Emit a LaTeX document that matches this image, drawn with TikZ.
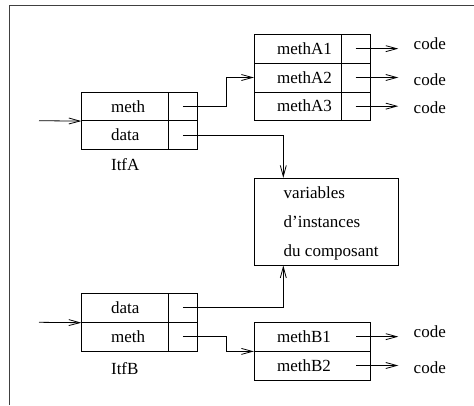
\documentclass[tikz,border=0pt]{standalone}
\usepackage{fontspec}
\setmainfont{Liberation Serif}
\usetikzlibrary{arrows.meta}
\begin{document}
\begin{tikzpicture}[x=1pt,y=-1pt,
  every node/.style={font=\fontsize{17}{28.6}\selectfont},
  cell/.style={draw, rectangle, inner sep=0pt},
  lab/.style={inner sep=0pt, anchor=west},
  arr/.style={-{Straight Barb[length=11pt,width=6pt]}},
  line width=0.8pt]
\useasboundingbox (0,0) rectangle (474,405);
% frame
\draw[line width=1pt, black!75] (9.5,405) -- (9.5,5) -- (474,5);

% ItfA
\node[cell, minimum width=86.6pt, minimum height=28.4pt] (Am) at (125,106.5) {};
\node[cell, minimum width=29pt, minimum height=28.4pt] (Amp) at (182.8,106.5) {};
\node[cell, minimum width=86.6pt, minimum height=28.6pt] (Ad) at (125,135) {};
\node[cell, minimum width=29pt, minimum height=28.6pt] (Adp) at (182.8,135) {};
\node[lab] (Amt) at (110.7,106.5) {meth};
\node[lab] (Adt) at (110.7,135) {data};
\node[lab] (Al) at (110.7,165) {ItfA};

% methA table
\node[cell, minimum width=86.7pt, minimum height=28.7pt] (A1) at (297.65,48.65) {};
\node[cell, minimum width=29pt, minimum height=28.7pt] (A1p) at (355.5,48.65) {};
\node[cell, minimum width=86.7pt, minimum height=29pt] (A2) at (297.65,77.5) {};
\node[cell, minimum width=29pt, minimum height=29pt] (A2p) at (355.5,77.5) {};
\node[cell, minimum width=86.7pt, minimum height=28.3pt] (A3) at (297.65,106.15) {};
\node[cell, minimum width=29pt, minimum height=28.3pt] (A3p) at (355.5,106.15) {};
\node[lab] (A1t) at (276.7,48.65) {methA1};
\node[lab] (A2t) at (276.7,77.5) {methA2};
\node[lab] (A3t) at (276.7,106.15) {methA3};
\node[lab] (c1) at (413.3,44) {code};
\node[lab] (c2) at (413.3,79.5) {code};
\node[lab] (c3) at (413.3,108) {code};

% variables box
\node[cell, minimum width=144pt, minimum height=86.7pt] (V) at (326.3,221.65) {};
\node[lab, align=left] (Vt) at (283.3,223.5) {variables\\d’instances\\du composant};

% ItfB
\node[cell, minimum width=86.6pt, minimum height=29pt] (Bd) at (125,307.8) {};
\node[cell, minimum width=29pt, minimum height=29pt] (Bdp) at (182.8,307.8) {};
\node[cell, minimum width=86.6pt, minimum height=28.7pt] (Bm) at (125,336.65) {};
\node[cell, minimum width=29pt, minimum height=28.7pt] (Bmp) at (182.8,336.65) {};
\node[lab] (Bdt) at (110.7,307.8) {data};
\node[lab] (Bmt) at (110.7,336.65) {meth};
\node[lab] (Bl) at (110.7,368.3) {ItfB};

% methB table
\node[cell, minimum width=115.7pt, minimum height=28.7pt] (B1) at (312.15,336.65) {};
\node[cell, minimum width=115.7pt, minimum height=29pt] (B2) at (312.15,365.5) {};
\node[lab] (B1t) at (276.7,336.65) {methB1};
\node[lab] (B2t) at (276.7,365.5) {methB2};
\node[lab] (c4) at (413.3,331.7) {code};
\node[lab] (c5) at (413.3,367.7) {code};

% free ends / helper coordinates
\coordinate (inA) at (39,120.7);
\coordinate (inB) at (39,322.3);
\coordinate (kA) at (226,0);

% connectors
\draw[arr] (inA) -- (Am.south west);
\draw[arr] (inB) -- (Bd.south west);
\draw[arr] (Amp.center) -| (kA |- A2.west) -- (A2.west);
\draw[arr] (Adp.center) -| (V.north -| Vt.west);
\draw[arr] (Bdp.center) -| (V.south -| Vt.west);
\draw[arr] (Bmp.center) -| (kA |- B1.south west) -- (B1.south west);
\draw[arr] (A1p.center) -- ([xshift=-15pt]c1.west |- A1p.center);
\draw[arr] (A2p.center) -- ([xshift=-15pt]c2.west |- A2p.center);
\draw[arr] (A3p.center) -- ([xshift=-15pt]c3.west |- A3p.center);
\draw[arr] ([xshift=-14.3pt]B1.east) -- ([xshift=-15pt]c4.west |- B1.east);
\draw[arr] ([xshift=-14.3pt]B2.east) -- ([xshift=-15pt]c5.west |- B2.east);
\end{tikzpicture}
\end{document}
